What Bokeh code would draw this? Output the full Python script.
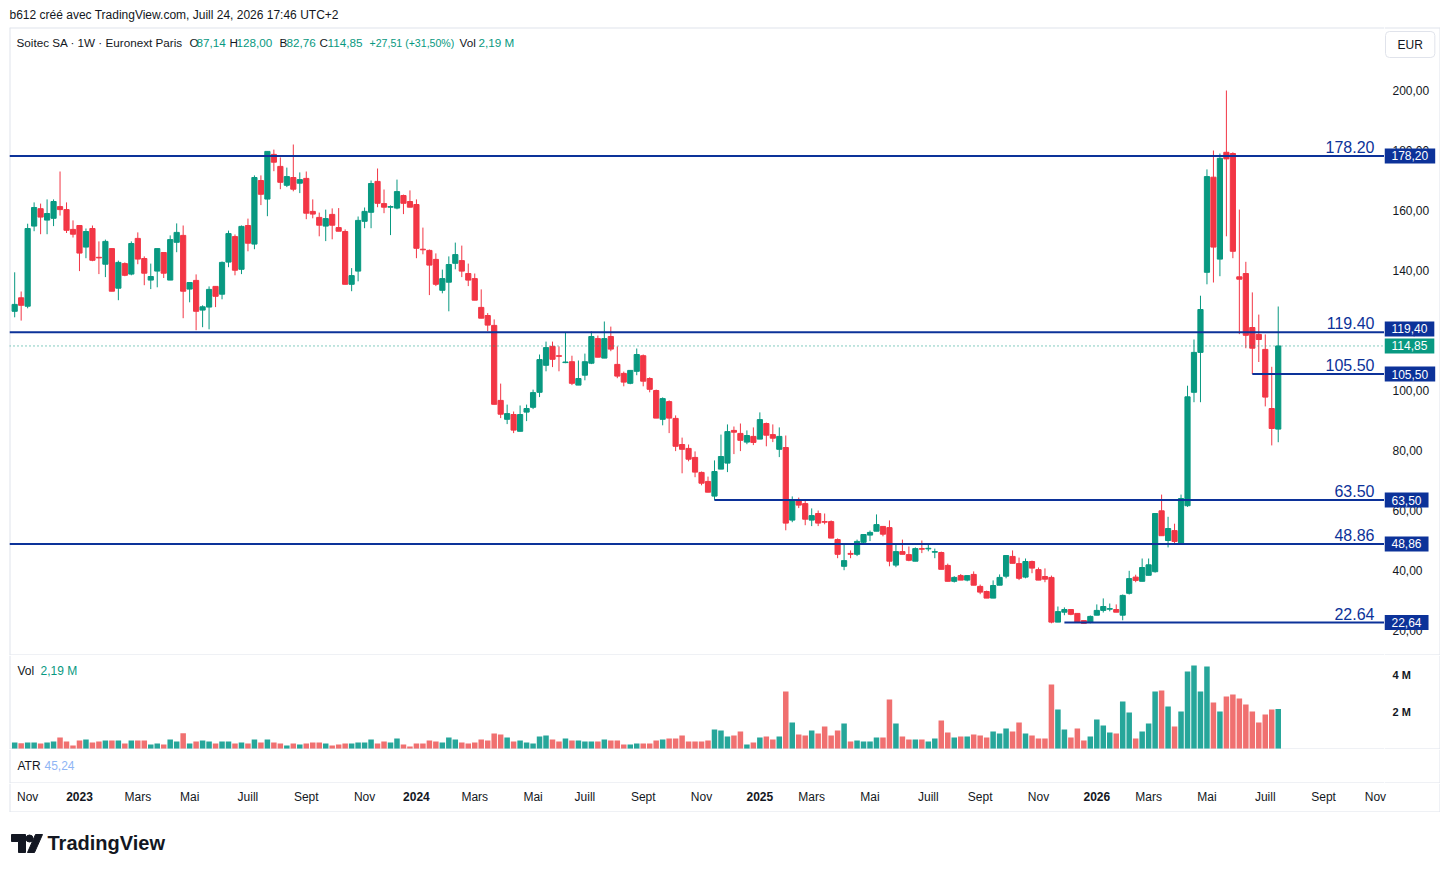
import pandas as pd
from bokeh.plotting import figure
from bokeh.models import Range1d, ColumnDataSource, Span, Label
from bokeh.layouts import column, row
from bokeh.core.properties import value
from bokeh.embed import file_html
from bokeh.resources import INLINE

FONT = "Liberation Sans"
DARK = "#131722"
UP = "#089981"
DOWN = "#f23645"
NAVY = "#0c3299"
VOL_UP = "#26a69a"
VOL_DOWN = "#f07070"
GRID = "#e0e3eb"

# ---------------- data (weekly candles, Soitec SA, Euronext Paris) ----------------
start_date = "2022-10-24"

opens = [126.4, 130.9, 128.1, 154.8, 160.6, 156.8, 157.4, 161.3, 160.3, 153.7,
         155.0, 147.8, 154.0, 144.4, 142.1, 147.3, 134.1, 142.3, 138.8, 150.7,
         144.0, 136.8, 139.8, 146.0, 136.8, 149.4, 151.7, 133.8, 136.7, 126.8,
         127.8, 134.7, 132.1, 142.8, 151.3, 140.4, 155.0, 148.8, 170.0, 163.8,
         178.7, 174.7, 168.4, 171.0, 169.1, 170.7, 159.7, 157.7, 154.8, 158.7,
         154.3, 153.0, 135.4, 139.8, 156.4, 159.4, 169.7, 162.3, 161.1, 160.8,
         165.0, 163.0, 162.0, 147.1, 146.7, 143.7, 133.4, 136.1, 142.4, 143.3,
         139.0, 137.3, 127.7, 125.0, 121.7, 96.7, 90.4, 92.0, 86.4, 92.8,
         94.4, 99.4, 108.4, 114.7, 111.6, 109.3, 109.6, 101.8, 105.1, 109.1,
         117.3, 110.8, 118.0, 108.7, 105.7, 102.4, 106.4, 111.6, 104.0, 100.0,
         90.4, 96.3, 90.7, 82.0, 80.7, 77.7, 72.7, 69.7, 64.8, 73.8,
         75.8, 86.7, 85.7, 82.8, 84.7, 83.8, 89.0, 85.3, 80.4, 81.0,
         56.8, 63.3, 62.3, 56.8, 59.0, 56.3, 56.3, 50.3, 41.4, 45.7,
         45.4, 49.4, 51.8, 53.1, 54.7, 54.3, 41.8, 46.3, 45.3, 43.1,
         47.3, 47.2, 46.1, 46.0, 41.7, 36.4, 38.3, 36.8, 38.7, 34.7,
         33.0, 30.8, 35.1, 38.1, 44.7, 42.3, 37.8, 43.0, 40.3, 38.0,
         37.7, 22.8, 26.1, 27.0, 25.7, 23.3, 22.8, 25.1, 26.7, 27.1,
         27.0, 25.1, 32.4, 37.8, 36.4, 38.4, 39.6, 59.9, 50.0, 53.3,
         49.2, 61.6, 99.4, 112.7, 139.4, 171.1, 143.8, 179.4, 179.0, 137.9,
         139.0, 121.0, 118.7, 113.7, 94.0, 87.14]

highs = [139.4, 133.0, 155.6, 162.7, 162.3, 163.7, 163.7, 173.0, 162.7, 156.7,
         155.0, 154.0, 155.0, 149.7, 150.3, 147.3, 143.3, 142.7, 149.7, 152.7,
         144.7, 142.3, 147.3, 146.0, 151.7, 155.7, 155.0, 136.0, 138.7, 128.4,
         134.7, 134.7, 143.0, 153.3, 152.0, 155.0, 157.3, 171.7, 171.7, 179.7,
         180.3, 177.7, 174.3, 182.0, 172.7, 173.0, 163.7, 159.3, 160.3, 160.7,
         160.8, 153.7, 140.8, 158.0, 161.0, 170.0, 174.0, 167.0, 161.7, 170.3,
         165.3, 166.7, 163.7, 154.3, 147.0, 145.7, 140.3, 144.7, 149.3, 148.3,
         142.3, 139.0, 133.7, 125.8, 123.7, 102.3, 95.3, 93.0, 95.0, 95.3,
         100.3, 112.0, 116.3, 116.3, 114.7, 119.3, 111.6, 110.0, 112.3, 119.7,
         118.3, 123.0, 121.3, 114.7, 106.3, 106.7, 114.0, 112.0, 104.4, 100.3,
         97.7, 96.7, 91.7, 84.3, 82.0, 79.7, 73.0, 71.3, 76.7, 85.3,
         88.7, 88.0, 89.0, 86.7, 87.7, 92.7, 89.3, 88.7, 87.7, 85.0,
         64.7, 64.3, 63.3, 60.7, 60.0, 59.0, 56.7, 50.7, 49.0, 46.7,
         50.3, 52.0, 53.3, 58.7, 54.7, 56.7, 49.0, 50.3, 48.0, 47.7,
         50.0, 48.7, 47.3, 46.3, 42.3, 38.1, 38.8, 38.3, 39.7, 35.3,
         33.3, 36.7, 38.7, 45.0, 46.7, 44.3, 44.0, 43.3, 41.0, 40.7,
         38.3, 28.0, 27.7, 27.0, 25.7, 23.3, 25.0, 28.7, 30.7, 29.0,
         28.7, 32.0, 39.9, 38.6, 44.0, 44.0, 59.0, 65.3, 57.9, 55.6,
         65.3, 101.6, 117.0, 131.6, 173.7, 180.0, 179.0, 200.0, 179.4, 160.3,
         142.9, 132.7, 125.3, 118.7, 107.9, 128.0]

lows = [124.4, 123.3, 127.4, 153.1, 152.1, 152.1, 154.8, 158.3, 152.5, 151.0,
        139.8, 144.1, 143.1, 138.8, 137.8, 133.1, 130.1, 138.1, 138.4, 142.1,
        135.1, 133.8, 134.4, 137.5, 136.8, 146.1, 124.1, 129.4, 120.1, 121.1,
        120.4, 127.8, 130.4, 141.1, 138.4, 138.8, 146.4, 147.1, 161.8, 158.1,
        173.1, 167.1, 167.8, 166.4, 165.8, 157.1, 157.4, 151.4, 149.8, 150.4,
        153.1, 135.4, 133.1, 136.4, 154.1, 154.1, 161.1, 159.1, 151.8, 160.4,
        158.8, 161.1, 144.1, 145.4, 131.8, 134.8, 132.4, 126.4, 140.4, 137.8,
        134.8, 130.1, 124.1, 119.8, 95.4, 90.8, 88.8, 85.8, 86.4, 89.8,
        93.8, 97.8, 106.4, 107.8, 106.4, 109.1, 101.8, 101.8, 103.4, 108.8,
        111.1, 110.8, 113.1, 104.1, 101.4, 102.1, 105.1, 101.4, 99.4, 90.8,
        88.4, 85.8, 79.8, 72.4, 76.4, 71.1, 68.4, 66.1, 63.4, 73.8,
        72.8, 78.8, 79.8, 82.1, 81.8, 83.8, 81.4, 82.8, 77.8, 53.4,
        56.1, 60.8, 55.1, 54.8, 54.8, 55.4, 50.8, 44.1, 40.1, 44.1,
        44.8, 48.8, 49.8, 53.1, 51.4, 41.4, 41.1, 45.4, 43.1, 43.1,
        45.8, 46.4, 44.1, 40.4, 36.4, 36.0, 36.8, 36.4, 35.1, 32.1,
        30.8, 30.8, 35.1, 37.4, 42.4, 36.8, 37.4, 39.1, 36.8, 36.1,
        22.4, 22.8, 25.1, 25.1, 22.8, 22.4, 22.4, 25.1, 26.0, 26.4,
        26.1, 23.4, 32.0, 36.1, 36.4, 38.4, 39.3, 51.6, 47.7, 49.1,
        48.6, 61.2, 96.1, 96.1, 135.4, 136.0, 138.1, 151.4, 144.1, 118.8,
        114.1, 105.5, 109.5, 94.7, 81.7, 82.76]

closes = [128.7, 128.4, 154.0, 161.0, 157.8, 159.0, 163.0, 160.3, 153.4, 152.1,
          145.8, 153.0, 143.4, 144.2, 149.7, 133.1, 142.7, 138.4, 149.0, 143.8,
          139.1, 138.0, 147.3, 139.1, 150.3, 152.7, 133.1, 136.0, 126.4, 127.9,
          133.7, 131.4, 142.7, 152.3, 140.1, 154.7, 149.1, 171.0, 165.4, 179.7,
          176.1, 169.4, 171.3, 167.1, 170.3, 159.1, 158.8, 155.1, 157.3, 155.1,
          153.1, 135.4, 138.3, 156.7, 159.7, 169.0, 162.4, 161.1, 161.3, 166.3,
          162.4, 161.1, 147.4, 146.9, 141.8, 135.4, 137.3, 142.0, 145.3, 139.8,
          136.8, 130.1, 124.1, 121.8, 95.4, 92.1, 92.3, 86.8, 92.0, 94.0,
          99.3, 110.3, 114.3, 110.4, 111.4, 109.5, 102.4, 104.0, 109.6, 118.0,
          111.1, 117.3, 113.8, 104.8, 102.8, 106.7, 112.0, 103.1, 100.4, 90.8,
          97.3, 90.8, 81.4, 80.4, 77.1, 72.8, 69.1, 66.1, 73.0, 78.0,
          86.3, 86.1, 83.4, 85.0, 82.7, 90.3, 85.1, 84.1, 84.7, 55.8,
          63.4, 61.8, 57.1, 58.3, 55.8, 56.1, 50.8, 45.4, 43.3, 45.4,
          49.7, 52.0, 52.7, 55.3, 52.1, 43.1, 46.3, 45.4, 43.4, 47.3,
          47.1, 47.4, 46.3, 40.4, 36.4, 37.7, 36.8, 38.3, 35.1, 32.8,
          30.8, 35.0, 37.7, 45.0, 42.4, 37.4, 43.0, 40.8, 36.8, 37.1,
          22.8, 26.3, 27.0, 25.4, 22.8, 22.4, 24.7, 26.7, 28.0, 27.3,
          26.1, 31.7, 37.3, 36.7, 41.0, 41.9, 59.0, 51.6, 54.0, 49.7,
          64.0, 97.9, 112.7, 127.0, 171.3, 147.8, 177.4, 177.2, 146.4, 137.1,
          118.4, 114.1, 117.0, 97.8, 87.34, 114.85]

volumes_m = [0.38, 0.34, 0.38, 0.38, 0.32, 0.38, 0.43, 0.65, 0.43, 0.22,
             0.49, 0.54, 0.38, 0.43, 0.49, 0.49, 0.49, 0.32, 0.49, 0.49,
             0.49, 0.27, 0.32, 0.27, 0.54, 0.43, 0.88, 0.32, 0.43, 0.49,
             0.43, 0.32, 0.43, 0.43, 0.32, 0.38, 0.32, 0.54, 0.38, 0.54,
             0.38, 0.32, 0.22, 0.32, 0.27, 0.32, 0.38, 0.38, 0.32, 0.22,
             0.27, 0.32, 0.32, 0.38, 0.38, 0.54, 0.32, 0.43, 0.38, 0.59,
             0.27, 0.16, 0.32, 0.32, 0.49, 0.43, 0.38, 0.65, 0.54, 0.38,
             0.32, 0.38, 0.54, 0.49, 0.86, 0.81, 0.65, 0.43, 0.49, 0.38,
             0.32, 0.70, 0.76, 0.54, 0.43, 0.59, 0.49, 0.49, 0.43, 0.43,
             0.43, 0.54, 0.49, 0.49, 0.27, 0.27, 0.32, 0.32, 0.32, 0.49,
             0.54, 0.59, 0.59, 0.76, 0.43, 0.43, 0.43, 0.49, 1.08, 1.03,
             0.70, 0.76, 0.97, 0.27, 0.38, 0.65, 0.70, 0.54, 0.70, 3.14,
             1.46, 0.81, 0.76, 1.03, 0.86, 1.24, 0.76, 1.03, 1.41, 0.43,
             0.49, 0.43, 0.43, 0.65, 0.65, 2.70, 1.41, 0.70, 0.54, 0.54,
             0.54, 0.43, 0.59, 1.57, 0.92, 0.65, 0.70, 0.70, 0.81, 0.76,
             0.65, 0.97, 0.86, 1.14, 0.97, 1.46, 0.86, 0.76, 0.59, 0.59,
             3.51, 2.16, 1.08, 0.65, 1.14, 0.49, 0.70, 1.62, 1.30, 0.92,
             0.86, 2.59, 2.00, 0.59, 0.97, 1.41, 3.14, 3.19, 2.32, 1.24,
             2.05, 4.22, 4.54, 3.14, 4.49, 2.54, 2.05, 2.86, 2.97, 2.76,
             2.43, 2.05, 1.46, 1.89, 2.16, 2.19]

levels = [178.20, 119.40, 105.50, 63.50, 48.86, 22.64]
level_start_bar = [None, None, 191, 108, None, 162]   # None: drawn across the whole chart
atr_last = 45.24
price_ticks = [20, 40, 60, 80, 100, 120, 140, 160, 180, 200]
volume_ticks = [2, 4]
month_names_fr = {1: None, 3: "Mars", 5: "Mai", 7: "Juill", 9: "Sept", 11: "Nov"}
header_title = "b612 créé avec TradingView.com, Juill 24, 2026 17:46 UTC+2"
symbol_title = "Soitec SA · 1W · Euronext Paris"
currency = "EUR"


def fr(v):
    return f"{v:.2f}".replace(".", ",")


n = len(closes)
idx = list(range(n))
dates = pd.date_range(start_date, periods=n + 20, freq="7D")

m_x, m_lab, y_x, y_lab = [], [], [], []
for i in range(1, len(dates)):
    d, prev = dates[i], dates[i - 1]
    if d.month != prev.month and d.month in month_names_fr:
        if d.month == 1:
            y_x.append(i)
            y_lab.append(str(d.year))
        else:
            m_x.append(i)
            m_lab.append(month_names_fr[d.month])

up = [c >= o for o, c in zip(opens, closes)]
src = ColumnDataSource(dict(
    x=idx, open=opens, high=highs, low=lows, close=closes,
    top=[max(o, c) for o, c in zip(opens, closes)],
    bottom=[min(o, c) for o, c in zip(opens, closes)],
    color=[UP if u else DOWN for u in up],
    vol=volumes_m,
    vcolor=[VOL_UP if u else VOL_DOWN for u in up],
))

LEFT = 9
PLOT_W = 1375
MAIN_W = LEFT + PLOT_W   # left border + plot area
SIDE_W = 56              # price-scale column
FULL_W = MAIN_W + SIDE_W
xr = Range1d(-0.8, 211.4)


def plain(f):
    f.grid.visible = False
    f.outline_line_color = None
    f.border_fill_color = "white"
    f.background_fill_color = "white"
    return f


def main_fig(h, yr, width=MAIN_W, x_range=xr):
    f = figure(width=width, height=h, x_range=x_range, y_range=yr, output_backend="svg",
               toolbar_location=None, min_border_left=LEFT, min_border_right=0,
               min_border_top=0, min_border_bottom=0,
               x_axis_location=None, y_axis_location=None)
    return plain(f)


def side_fig(h, yr):
    f = figure(width=SIDE_W, height=h, x_range=Range1d(0, SIDE_W), y_range=yr,
               output_backend="svg", toolbar_location=None, min_border=0,
               x_axis_location=None, y_axis_location=None)
    return plain(f)


def edges(f, top=False, bottom=True, left=False, right=False):
    if top:
        f.add_layout(Span(location=f.y_range.end, dimension="width", line_color=GRID, line_width=2))
    if bottom:
        f.add_layout(Span(location=f.y_range.start, dimension="width", line_color=GRID, line_width=2))
    if left:
        f.add_layout(Span(location=f.x_range.start, dimension="height", line_color=GRID, line_width=2))
    if right:
        f.add_layout(Span(location=f.x_range.end, dimension="height", line_color=GRID, line_width=2))


# ---------------- header ----------------
ph = figure(width=FULL_W, height=27, x_range=Range1d(0, 1), y_range=Range1d(0, 1),
            output_backend="svg", toolbar_location=None, min_border=0,
            x_axis_location=None, y_axis_location=None)
plain(ph)
ph.add_layout(Label(x=9, y=13, x_units="screen", y_units="screen", text=header_title,
                    text_align="left", text_baseline="middle", text_color=DARK,
                    text_font=FONT, text_font_size="12px"))

# ---------------- price pane ----------------
PRICE_H = 628
price_range = Range1d(11.67, 221)
p = main_fig(PRICE_H, price_range)
ps = side_fig(PRICE_H, price_range)
edges(p, top=True, bottom=True, left=True)
edges(ps, top=True, bottom=True, right=True)

p.segment(x0="x", y0="low", x1="x", y1="high", color="color", line_width=1, source=src)
p.vbar(x="x", width=0.8, top="top", bottom="bottom", fill_color="color",
       line_color="color", line_width=1, source=src)

for lv, sb in zip(levels, level_start_bar):
    if sb is None:
        p.add_layout(Span(location=lv, dimension="width", line_color=NAVY, line_width=2))
    else:
        p.ray(x=[sb], y=[lv], length=0, angle=0, line_color=NAVY, line_width=2)

p.add_layout(Span(location=closes[-1], dimension="width", line_color=UP,
                  line_width=1, line_dash="1 3"))

for lv in levels:
    p.add_layout(Label(x=1365, x_units="screen", y=lv, y_offset=3, text=f"{lv:.2f}",
                       text_align="right", text_baseline="bottom", text_color=NAVY,
                       text_font=FONT, text_font_size="16px"))

chg = closes[-1] - closes[-2]
pct = chg / closes[-2] * 100
legend_items = [
    (symbol_title, DARK, 7, "11.7px"), ("O", DARK, 180, "11.7px"), (fr(opens[-1]), UP, 187, "11.7px"),
    ("H", DARK, 220, "11.7px"), (fr(highs[-1]), UP, 227, "11.7px"),
    ("B", DARK, 270, "11.7px"), (fr(lows[-1]), UP, 277, "11.7px"),
    ("C", DARK, 310, "11.7px"), (fr(closes[-1]), UP, 318, "11.7px"),
    (f"+{fr(chg)} (+{fr(pct)}%)", UP, 360, "10.6px"), ("Vol", DARK, 450, "11.7px"),
    (f"{fr(volumes_m[-1])} M", UP, 469, "11.7px"),
]
for txt, col, xs, fs in legend_items:
    p.add_layout(Label(x=xs, y=613, x_units="screen", y_units="screen", text=txt,
                       text_align="left", text_baseline="middle", text_color=col,
                       text_font=FONT, text_font_size=fs))

# price scale
ps.text(x=8, y=price_ticks, text=[fr(t) for t in price_ticks], text_align="left",
        text_baseline="middle", text_color=DARK, text_font=value(FONT), text_font_size="12px")

px_per_unit = PRICE_H / (price_range.end - price_range.start)
BOX_H = 17
last = closes[-1]
box_items = []
for lv in levels:
    dist = abs(lv - last) * px_per_unit
    off = (BOX_H - dist) * (1 if lv > last else -1) if dist < BOX_H else 0
    box_items.append((lv, NAVY, off))
box_items.append((last, UP, 0))
for lv, col, off in box_items:
    ps.add_layout(Label(x=0, x_units="screen", y=lv, y_offset=off, text=fr(lv), text_align="left",
                        text_baseline="middle", text_color="white", text_font=FONT,
                        text_font_size="12px", background_fill_color=col, padding=(7, 3)))
ps.add_layout(Label(x=1, y=611, x_units="screen", y_units="screen", text=currency,
                    text_align="left", text_baseline="middle", text_color=DARK,
                    text_font=FONT, text_font_size="12px", background_fill_color="white",
                    border_line_color=GRID, border_radius=4, padding=(12, 6)))

# ---------------- volume pane ----------------
vol_range = Range1d(0, 5.08)
pv = main_fig(94, vol_range)
pvs = side_fig(94, vol_range)
edges(pv, bottom=True, left=True)
edges(pvs, bottom=True, right=True)
pv.vbar(x="x", width=0.85, top="vol", bottom=0, fill_color="vcolor", line_color=None, source=src)
pv.add_layout(Label(x=8, y=79, x_units="screen", y_units="screen", text="Vol",
                    text_baseline="middle", text_color=DARK, text_font=FONT, text_font_size="12px"))
pv.add_layout(Label(x=31, y=79, x_units="screen", y_units="screen", text=f"{fr(volumes_m[-1])} M",
                    text_baseline="middle", text_color=UP, text_font=FONT, text_font_size="12px"))
pvs.text(x=8, y=volume_ticks, text=[f"{t} M" for t in volume_ticks], text_align="left",
         text_baseline="middle", text_color=DARK, text_font=value(FONT), text_font_size="11px",
         text_font_style="bold")

# ---------------- ATR pane ----------------
pa = main_fig(34, Range1d(0, 1))
pas = side_fig(34, Range1d(0, 1))
edges(pa, bottom=True, left=True)
edges(pas, bottom=True, right=True)
pa.add_layout(Label(x=8, y=18, x_units="screen", y_units="screen", text="ATR",
                    text_baseline="middle", text_color=DARK, text_font=FONT, text_font_size="12px"))
pa.add_layout(Label(x=35, y=18, x_units="screen", y_units="screen", text=fr(atr_last),
                    text_baseline="middle", text_color="#8fb5f5", text_font=FONT,
                    text_font_size="12px"))

# ---------------- time axis (spans full width, same bar scale as the panes) ----------------
bars_per_px = (xr.end - xr.start) / PLOT_W
xr_time = Range1d(xr.start, xr.start + bars_per_px * (FULL_W - LEFT))
pt = main_fig(29, Range1d(0, 1), width=FULL_W, x_range=xr_time)
edges(pt, bottom=True, left=True, right=True)
pt.text(x=m_x, y=0.55, text=m_lab, text_align="center", text_baseline="middle",
        text_color=DARK, text_font=value(FONT), text_font_size="12px")
pt.text(x=y_x, y=0.55, text=y_lab, text_align="center", text_baseline="middle",
        text_color=DARK, text_font=value(FONT), text_font_size="12px", text_font_style="bold")

# ---------------- footer (TradingView wordmark) ----------------
pf = figure(width=FULL_W, height=55, x_range=Range1d(0, FULL_W),
            y_range=Range1d(0, 55), output_backend="svg", toolbar_location=None, min_border=0,
            x_axis_location=None, y_axis_location=None)
plain(pf)
pf.patch([11, 25, 25, 18, 18, 11], [33, 33, 15, 15, 26, 26], color=DARK)
pf.scatter([29], [29], size=7, color=DARK)
pf.patch([27, 34, 42, 35], [15, 15, 33, 33], color=DARK)
pf.add_layout(Label(x=47, y=25, x_units="screen", y_units="screen", text="TradingView",
                    text_baseline="middle", text_color=DARK, text_font=FONT,
                    text_font_size="20px", text_font_style="bold"))

layout = column(row(ph), row(p, ps), row(pv, pvs), row(pa, pas), row(pt), row(pf), spacing=0)
open("out.html", "w").write(file_html(layout, INLINE))
